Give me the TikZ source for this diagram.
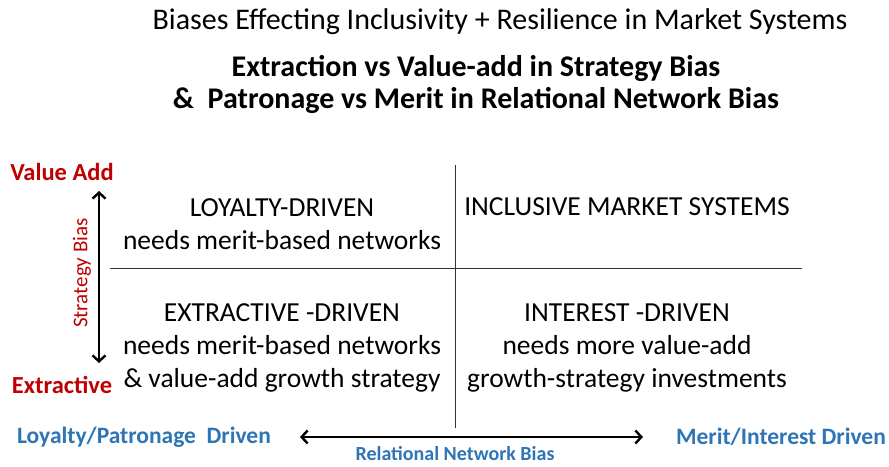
\documentclass[tikz,border=0pt]{standalone}
\usepackage{fontspec}
\setmainfont{Carlito}
\usetikzlibrary{arrows.meta}
\definecolor{biasred}{RGB}{192,0,0}
\definecolor{biasblue}{RGB}{46,117,182}
\tikzset{
  title/.style={font=\fontsize{30}{34}\selectfont},
  subtitle/.style={font=\bfseries\fontsize{30}{32}\selectfont, align=center},
  quad/.style={font=\fontsize{27.5}{33}\selectfont, align=center},
  redlabel/.style={text=biasred, font=\bfseries\fontsize{24.5}{26}\selectfont},
  bluelabel/.style={text=biasblue, font=\bfseries\fontsize{23.5}{26}\selectfont},
  axis/.style={line width=2.4pt, {Straight Barb[length=6pt,width=13pt]}-{Straight Barb[length=6pt,width=13pt]}}
}
\begin{document}
\begin{tikzpicture}[x=1pt,y=-1pt]
  \useasboundingbox[fill=white] (0,0) rectangle (889,466);
  % titles
  \node[title] (t1) at (500,22) {Biases Effecting Inclusivity + Resilience in Market Systems};
  \node[subtitle] (t2) at (476,84) {Extraction vs Value-add in Strategy Bias\\
    \&\ \ Patronage vs Merit in Relational Network Bias};
  % quadrant lines
  \coordinate (vtop) at (455,165);
  \coordinate (vbot) at (455,428);
  \coordinate (hleft) at (110,268);
  \coordinate (hright) at (802,268);
  \draw[gray!40!black, line width=0.9pt] (vtop) -- (vbot);
  \draw[gray!40!black, line width=0.9pt] (hleft) -- (hright);
  % quadrant texts
  \node[quad] (q1) at (282,224) {LOYALTY-DRIVEN\\needs merit-based networks};
  \node[quad] (q2) at (627,207) {INCLUSIVE MARKET SYSTEMS};
  \node[quad] (q3) at (282,348) {EXTRACTIVE -DRIVEN\\needs merit-based networks\\\& value-add growth strategy};
  \node[quad] (q4) at (627,348) {INTEREST -DRIVEN\\needs more value-add\\growth-strategy investments};
  % strategy axis
  \node[redlabel] (va) at (62,172) {Value\ Add};
  \node[redlabel] (ex) at (62,385) {Extractive};
  \coordinate (sa) at (99,191);
  \coordinate (sb) at (99,363);
  \draw[axis] (sa) -- (sb);
  \node[text=biasred, font=\fontsize{21}{22}\selectfont, rotate=90] (sbias) at (82,273) {Strategy Bias};
  % relational axis
  \node[bluelabel] (lp) at (144,437) {Loyalty/Patronage\ \ Driven};
  \node[bluelabel] (mi) at (781,437) {Merit/Interest Driven};
  \coordinate (ra) at (300,437);
  \coordinate (rb) at (643,437);
  \draw[axis] (ra) -- (rb);
  \node[text=biasblue, font=\bfseries\fontsize{20}{22}\selectfont, anchor=base, inner sep=0pt] (rbias) at (455,460) {Relational Network Bias};
\end{tikzpicture}
\end{document}
